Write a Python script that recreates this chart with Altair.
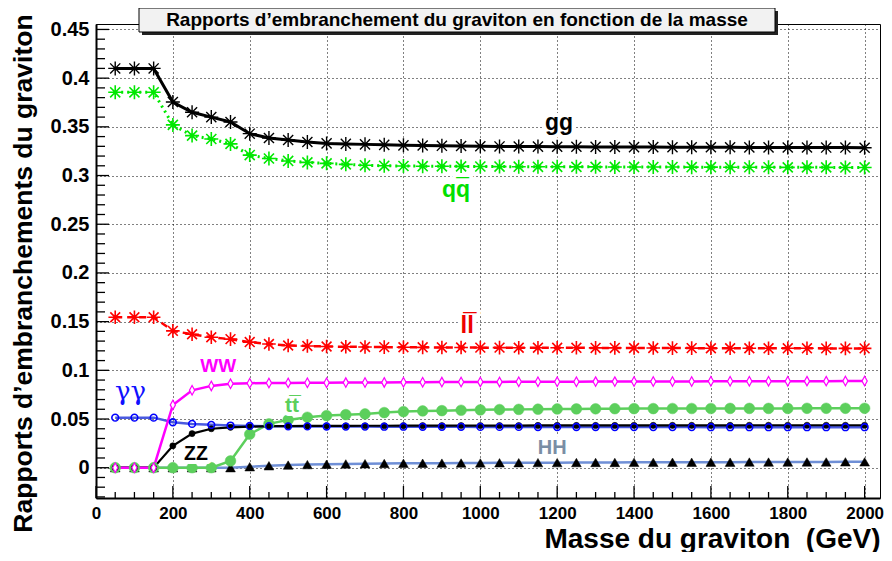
import altair as alt
import pandas as pd

# ---------------- data ----------------
mass = list(range(50, 2001, 50))  # 40 mass points, GeV

gg = [0.410, 0.410, 0.410, 0.3755, 0.365, 0.360, 0.355, 0.343, 0.3385, 0.3365,
      0.3345, 0.333, 0.3325, 0.332, 0.3315, 0.331, 0.3308, 0.3305, 0.3303, 0.3300,
      0.3299, 0.3298, 0.3297, 0.3296, 0.3295, 0.3294, 0.3293, 0.3292, 0.3292, 0.3291,
      0.3291, 0.3290, 0.3290, 0.3289, 0.3289, 0.3288, 0.3288, 0.3287, 0.3287, 0.3286]
qq = [0.3855, 0.3855, 0.3855, 0.352, 0.341, 0.3375, 0.3325, 0.321, 0.3175, 0.315,
      0.3135, 0.3125, 0.3115, 0.3105, 0.3100, 0.3098, 0.3096, 0.3095, 0.3094, 0.3093,
      0.3092, 0.3091, 0.3090, 0.3090, 0.3089, 0.3089, 0.3088, 0.3088, 0.3087, 0.3087,
      0.3086, 0.3086, 0.3085, 0.3085, 0.3085, 0.3084, 0.3084, 0.3084, 0.3083, 0.3083]
ll = [0.1545, 0.1545, 0.1545, 0.1405, 0.137, 0.134, 0.132, 0.129, 0.127, 0.1255,
      0.125, 0.1245, 0.1242, 0.124, 0.1238, 0.1237, 0.1236, 0.1235, 0.1234, 0.1233,
      0.1233, 0.1232, 0.1232, 0.1231, 0.1231, 0.1230, 0.1230, 0.1229, 0.1229, 0.1228,
      0.1228, 0.1227, 0.1227, 0.1227, 0.1226, 0.1226, 0.1226, 0.1225, 0.1225, 0.1225]
ww = [0.0, 0.0, 0.0, 0.0645, 0.0795, 0.084, 0.0862, 0.0868, 0.087, 0.0871,
      0.0872, 0.0873, 0.0874, 0.0875, 0.0876, 0.0877, 0.0878, 0.0879, 0.0880, 0.0881,
      0.0881, 0.0882, 0.0882, 0.0883, 0.0883, 0.0884, 0.0884, 0.0885, 0.0885, 0.0886,
      0.0886, 0.0887, 0.0887, 0.0888, 0.0888, 0.0888, 0.0889, 0.0889, 0.0890, 0.0890]
zz = [0.0, 0.0, 0.0, 0.0225, 0.035, 0.040, 0.0415, 0.0422, 0.0426, 0.0428,
      0.0429, 0.0430, 0.0430, 0.0431, 0.0431, 0.0432, 0.0432, 0.0432, 0.0433, 0.0433,
      0.0433, 0.0433, 0.0434, 0.0434, 0.0434, 0.0434, 0.0434, 0.0435, 0.0435, 0.0435,
      0.0435, 0.0435, 0.0435, 0.0436, 0.0436, 0.0436, 0.0436, 0.0436, 0.0436, 0.0436]
aa = [0.0514, 0.0514, 0.0514, 0.0467, 0.045, 0.044, 0.0433, 0.0429, 0.0427, 0.0425,
      0.0424, 0.0423, 0.0422, 0.0422, 0.0421, 0.0421, 0.0420, 0.0420, 0.0420, 0.0419,
      0.0419, 0.0419, 0.0418, 0.0418, 0.0418, 0.0418, 0.0417, 0.0417, 0.0417, 0.0417,
      0.0417, 0.0416, 0.0416, 0.0416, 0.0416, 0.0416, 0.0416, 0.0416, 0.0416, 0.0416]
tt = [0.0, 0.0, 0.0, 0.0, 0.0, 0.0, 0.007, 0.0344, 0.045, 0.0491,
      0.0518, 0.0535, 0.0545, 0.0552, 0.0566, 0.0576, 0.0583, 0.0586, 0.059, 0.0594,
      0.0597, 0.0599, 0.0601, 0.0603, 0.0604, 0.0605, 0.0606, 0.0607, 0.0607, 0.0608,
      0.0608, 0.0608, 0.0609, 0.0609, 0.0609, 0.0609, 0.061, 0.061, 0.061, 0.061]
hh = [0.0, 0.0, 0.0, 0.0, 0.0, 0.0, 0.0, 0.001, 0.002, 0.0027,
      0.0032, 0.0036, 0.0039, 0.0041, 0.0043, 0.0045, 0.0046, 0.0047, 0.0048, 0.0049,
      0.005, 0.0051, 0.0052, 0.0052, 0.0053, 0.0054, 0.0054, 0.0055, 0.0055, 0.0056,
      0.0056, 0.0057, 0.0057, 0.0058, 0.0058, 0.0058, 0.0059, 0.0059, 0.006, 0.006]

series = {"gg": gg, "qq": qq, "ll": ll, "WW": ww, "ZZ": zz,
          "aa": aa, "tt": tt, "HH": hh}

# labels drawn next to the curves (text, mass, value)
lab_text = ["gg", "qq", "ll", "WW", "tt", "ZZ", "HH"]
lab_x = [1205, 937, 966, 318, 510, 260, 1187]
lab_y = [0.3468, 0.278, 0.138, 0.0985, 0.0576, 0.008, 0.0142]
lab_color = ["black", "#00e000", "#ee0000", "#ff00ff", "#5ccf5c", "black", "#7a8ea5"]
lab_size = [23, 23, 24, 19, 21, 19.5, 20]
# bars over the antiparticles
bar_x = [954, 973, 518]
bar_y = [0.280, 0.141, 0.0596]
bar_color = ["#00e000", "#ee0000", "#5ccf5c"]
bar_size = [23, 24, 21]
gam_text = ["γγ"]
gam_x = [90]
gam_y = [0.0696]

x_major = list(range(0, 2001, 200))
x_minor = [v for v in range(0, 2001, 50) if v % 200]
y_major = [0, 0.05, 0.1, 0.15, 0.2, 0.25, 0.3, 0.35, 0.4, 0.45]
y_minor = [round(0.01 * i, 2) for i in range(-3, 46) if i % 5]

title = "Rapports d’embranchement du graviton en fonction de la masse"
xtitle = "Masse du graviton\u00a0 (GeV)"
ytitle = "Rapports d’embranchements du graviton"

# ---------------- build ----------------
rows = []
for name, vals in series.items():
    for m, v in zip(mass, vals):
        rows.append({"serie": name, "masse": m, "br": v})
df = pd.DataFrame(rows)

W, H = 784, 474
FONT = "Liberation Sans"
xs = alt.Scale(domain=[0, 2040], nice=False, zero=False)
ys = alt.Scale(domain=[-0.0311, 0.4556], nice=False, zero=False)

xaxis = alt.Axis(values=x_major, format="d", labelFont=FONT, labelFontWeight="bold",
                 labelFontSize=17, labelColor="black", labelPadding=7, labelFlush=False,
                 labelOverlap=False, ticks=False, domain=True, domainColor="black",
                 domainWidth=2, grid=True, gridColor="black", gridDash=[1, 3],
                 gridWidth=1, title=xtitle, titleFont=FONT, titleFontWeight="bold",
                 titleFontSize=28, titleColor="black", titleX=W, titleY=49,
                 titleAlign="right", titleBaseline="alphabetic")
yaxis = alt.Axis(values=y_major, format=".2~f", labelFont=FONT, labelFontWeight="bold",
                 labelFontSize=20, labelColor="black", labelPadding=7,
                 labelOverlap=False, ticks=False, domain=True, domainColor="black",
                 domainWidth=2, grid=True, gridColor="black", gridDash=[1, 3],
                 gridWidth=1, title=ytitle, titleFont=FONT, titleFontWeight="bold",
                 titleFontSize=26.5, titleColor="black", titleX=-73, titleY=249,
                 titleAngle=270, titleAlign="center", titleBaseline="middle")

STAR = "M-1,0L1,0M0,-1L0,1M-0.72,-0.72L0.72,0.72M-0.72,0.72L0.72,-0.72"
DIAM = "M0,-1L0.55,0L0,1L-0.55,0Z"


def X(field="masse"):
    return alt.X(f"{field}:Q", scale=xs, axis=xaxis)


def Y(field="br"):
    return alt.Y(f"{field}:Q", scale=ys, axis=yaxis)


def sel(name):
    return alt.Chart(df).transform_filter(alt.datum.serie == name)


def line(name, color, width, dash=None):
    kw = dict(color=color, strokeWidth=width)
    if dash:
        kw["strokeDash"] = dash
    return sel(name).mark_line(**kw).encode(x=X(), y=Y())


def pts(name, shape, size, color, filled, sw=1.5, fill=None):
    kw = dict(shape=shape, size=size, filled=filled, strokeWidth=sw, opacity=1)
    if filled:
        kw["fill"] = color
        kw["stroke"] = color
        kw["strokeWidth"] = 0.5
    else:
        kw["stroke"] = color
        if fill:
            kw["fill"] = fill
            kw["fillOpacity"] = 1
    return sel(name).mark_point(**kw).encode(x=X(), y=Y())


layers = [
    line("HH", "#6f8fd6", 2.5),
    line("tt", "#5ccf5c", 2.5),
    line("aa", "#4a5ae0", 2.5),
    line("ZZ", "black", 2.2),
    line("WW", "#ff00ff", 2.5),
    line("ll", "#ff0000", 2.5, dash=[7, 5]),
    line("qq", "#00e800", 3, dash=[2, 4]),
    line("gg", "black", 3),
    pts("HH", "triangle-up", 95, "black", True),
    pts("tt", "circle", 115, "#5ccf5c", True),
    pts("ZZ", "circle", 38, "black", True),
    pts("aa", "circle", 45, "#0000ff", False, sw=1.6),
    pts("WW", DIAM, 90, "#ff00ff", False, sw=1.2, fill="white"),
    pts("ll", STAR, 185, "#ff0000", False, sw=1.6),
    pts("qq", STAR, 196, "#00e800", False, sw=1.6),
    pts("gg", STAR, 196, "black", False, sw=1.4),
]

# inward ticks
tick_x_major = alt.Chart(pd.DataFrame({"masse": x_major})).mark_rule(
    color="black", strokeWidth=1.3).encode(x=X(), y=alt.value(H), y2=alt.value(H - 12))
tick_x_minor = alt.Chart(pd.DataFrame({"masse": x_minor})).mark_rule(
    color="black", strokeWidth=1.3).encode(x=X(), y=alt.value(H), y2=alt.value(H - 6))
tick_y_major = alt.Chart(pd.DataFrame({"br": y_major})).mark_rule(
    color="black", strokeWidth=1.3).encode(y=Y(), x=alt.value(0), x2=alt.value(13))
tick_y_minor = alt.Chart(pd.DataFrame({"br": y_minor})).mark_rule(
    color="black", strokeWidth=1.3).encode(y=Y(), x=alt.value(0), x2=alt.value(9))
layers += [tick_x_major, tick_x_minor, tick_y_major, tick_y_minor]

# curve labels (white halo first, like the white boxes behind the labels)
labdf = pd.DataFrame({"t": lab_text, "masse": lab_x, "br": lab_y, "c": lab_color, "s": lab_size})
bardf = pd.DataFrame({"t": ["¯"] * len(bar_x), "masse": bar_x, "br": bar_y, "c": bar_color,
                      "s": bar_size})
gamdf = pd.DataFrame({"t": gam_text, "masse": gam_x, "br": gam_y})

for d in (labdf, bardf):
    layers.append(alt.Chart(d).mark_text(font=FONT, fontWeight="bold", baseline="alphabetic",
                                         align="center", fill="white", stroke="white",
                                         strokeWidth=8, strokeJoin="round").encode(
        x=X(), y=Y(), text="t:N", size=alt.Size("s:Q", scale=None)))
for d in (labdf, bardf):
    layers.append(alt.Chart(d).mark_text(font=FONT, fontWeight="bold", baseline="alphabetic",
                                         align="center").encode(
        x=X(), y=Y(), text="t:N", color=alt.Color("c:N", scale=None),
        size=alt.Size("s:Q", scale=None)))
layers.append(alt.Chart(gamdf).mark_text(font="DejaVu Serif", fontSize=26, color="#1010ff",
                                         baseline="alphabetic", align="center").encode(
    x=X(), y=Y(), text="t:N"))

# title box with shadow
tdf = pd.DataFrame({"t": [title]})
layers.append(alt.Chart(tdf).mark_rect(color="#222222").encode(
    x=alt.value(46), x2=alt.value(682), y=alt.value(-13), y2=alt.value(11)))
layers.append(alt.Chart(tdf).mark_rect(fill="#f2f2f2", stroke="black", strokeWidth=1).encode(
    x=alt.value(43), x2=alt.value(679), y=alt.value(-16), y2=alt.value(8)))
layers.append(alt.Chart(tdf).mark_text(font=FONT, fontWeight="bold", fontSize=19,
                                       color="black", align="center", baseline="middle").encode(
    x=alt.value(361), y=alt.value(-4), text="t:N"))

chart = alt.layer(*layers).properties(
    width=W, height=H,
    padding={"left": 88, "top": 16, "right": 4, "bottom": 54},
    autosize=alt.AutoSizeParams(type="none"),
    background="white",
).configure_view(stroke="black", strokeWidth=1)

chart.save("out.html", embed_options={"renderer": "svg", "actions": False})
